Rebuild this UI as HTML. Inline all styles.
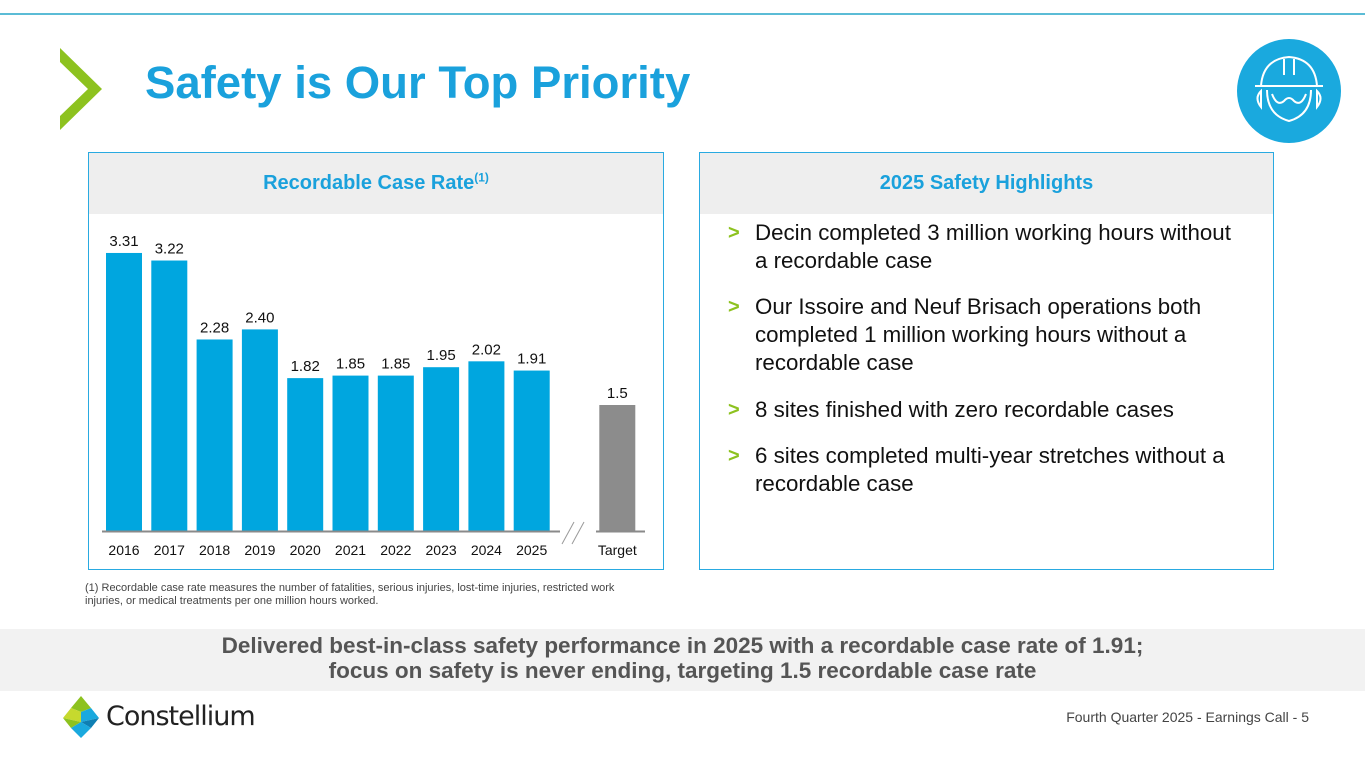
<!DOCTYPE html>
<html><head><meta charset="utf-8"><style>
body{margin:0;width:1365px;height:768px;position:relative;background:#fff;font-family:"Liberation Sans",sans-serif;overflow:hidden}
.abs{position:absolute}
.panel{position:absolute;border:1.5px solid #29aae1;box-sizing:border-box;background:#fff}
.ph{position:absolute;left:0;right:0;top:0;height:61px;background:#eeeeee;color:#1aa1dc;font-weight:bold;font-size:20px;text-align:center;line-height:61px}
.b{position:absolute;left:755px;font-size:22.3px;line-height:28px;color:#111;width:488px}
.b:before{content:">";position:absolute;left:-27px;color:#8dc21f;font-weight:bold;font-size:20px}
</style></head><body>
<div class="abs" style="left:0;top:13px;width:1365px;height:2px;background:#5bbcd6"></div>
<svg class="abs" style="left:60px;top:48px" width="44" height="84"><polygon points="0,0 42,41 0,82 0,68 28,41 0,14" fill="#8dc21f"/></svg>
<div class="abs" style="left:145px;top:57px;font-size:45.5px;font-weight:bold;color:#1aa1dc">Safety is Our Top Priority</div>
<svg class="abs" style="left:1237px;top:39px" width="104" height="104"><circle cx="52" cy="52" r="52" fill="#1aa9de"/><g fill="none" stroke="#fff" stroke-width="2"><path d="M24,47 Q26,20 52,18 Q78,20 80,47"/><path d="M47,20 V36 M57,20 V36"/><path d="M18,47 H86"/><path d="M30,51 Q30,76 52,82 Q74,76 74,51"/><path d="M35,55 Q40,68 47,62 Q52,56 57,62 Q64,68 69,55"/><path d="M24,52 Q17,59 24,68 Z M80,52 Q87,59 80,68 Z"/></g></svg>

<div class="panel" style="left:88px;top:152px;width:576px;height:418px">
<div class="ph">Recordable Case Rate<sup style="font-size:12px;line-height:0">(1)</sup></div>
</div>
<svg class="abs" id="chart" style="left:0;top:0" width="700" height="580"></svg>

<div class="panel" style="left:699px;top:152px;width:575px;height:418px">
<div class="ph">2025 Safety Highlights</div>
</div>
<div class="b" style="top:219px">Decin completed 3 million working hours without a recordable case</div>
<div class="b" style="top:293px">Our Issoire and Neuf Brisach operations both completed 1 million working hours without a recordable case</div>
<div class="b" style="top:396px">8 sites finished with zero recordable cases</div>
<div class="b" style="top:442px">6 sites completed multi-year stretches without a recordable case</div>

<div class="abs" style="left:85px;top:582px;width:560px;font-size:11px;line-height:13px;color:#444">(1) Recordable case rate measures the number of fatalities, serious injuries, lost-time injuries, restricted work injuries, or medical treatments per one million hours worked.</div>
<div class="abs" style="left:0;top:629px;width:1365px;height:62px;background:#f2f2f2;color:#555;font-weight:bold;font-size:22.5px;text-align:center;line-height:25px;padding-top:4px;box-sizing:border-box">Delivered best-in-class safety performance in 2025 with a recordable case rate of 1.91;<br>focus on safety is never ending, targeting 1.5 recordable case rate</div>
<svg class="abs" style="left:63px;top:696px" width="36" height="42"><polygon points="18,0 28,12 18,16 8,12" fill="#8dc21f"/><polygon points="8,12 18,16 18,26 0,22" fill="#c6d92e"/><polygon points="18,16 28,12 36,22 18,26" fill="#1aa9de"/><polygon points="0,22 18,26 8,32" fill="#8dc21f"/><polygon points="18,26 36,22 28,32" fill="#0e7fb3"/><polygon points="8,32 18,26 28,32 18,42" fill="#1aa9de"/></svg>
<div class="abs" style="left:106px;top:701px;font-size:27px;color:#222;font-family:'DejaVu Sans',sans-serif;letter-spacing:-1px">Constellium</div>
<div class="abs" style="right:56px;top:709px;font-size:14px;color:#444">Fourth Quarter 2025 - Earnings Call - 5</div>

<script>
const categories=["2016","2017","2018","2019","2020","2021","2022","2023","2024","2025"];
const values=[3.31,3.22,2.28,2.40,1.82,1.85,1.85,1.95,2.02,1.91];
const valueLabels=["3.31","3.22","2.28","2.40","1.82","1.85","1.85","1.95","2.02","1.91"];
const targetCategory="Target";
const targetValue=1.5;
const targetLabel="1.5";
const ns="http://www.w3.org/2000/svg";
const svg=document.getElementById('chart');
const base=531,scale=84;
const y=v=>base-v*scale;
const x=i=>106+i*45.3;
const bw=36;
function mk(t,a){const e=document.createElementNS(ns,t);for(const k in a)e.setAttribute(k,a[k]);svg.appendChild(e);return e;}
function bar(xx,v,lab,cat,color,i){
 const r=mk('rect',{x:xx,y:y(v),width:bw,height:v*scale,fill:color});
 
 
 const t=mk('text',{x:xx+bw/2,y:y(v)-7,'text-anchor':'middle','font-size':'15','fill':'#111','font-family':'Liberation Sans'});t.textContent=lab;
 
 
 const c=mk('text',{x:xx+bw/2,y:555,'text-anchor':'middle','font-size':'14','fill':'#111','font-family':'Liberation Sans'});c.textContent=cat;
 
 
}
categories.forEach((c,i)=>bar(x(i),values[i],valueLabels[i],c,'#00a6df',i));
bar(x(11)-5,targetValue,targetLabel,targetCategory,'#8c8c8c',11);
const ax=mk('line',{x1:102,x2:645,y1:base+0.5,y2:base+0.5,stroke:'#8a8a8a','stroke-width':2});


const br=mk('rect',{x:560,y:522,width:36,height:20,fill:'#fff'});


mk('line',{x1:562,x2:574,y1:544,y2:522,stroke:'#999','stroke-width':1});
mk('line',{x1:572,x2:584,y1:544,y2:522,stroke:'#999','stroke-width':1});
</script>
</body></html>
